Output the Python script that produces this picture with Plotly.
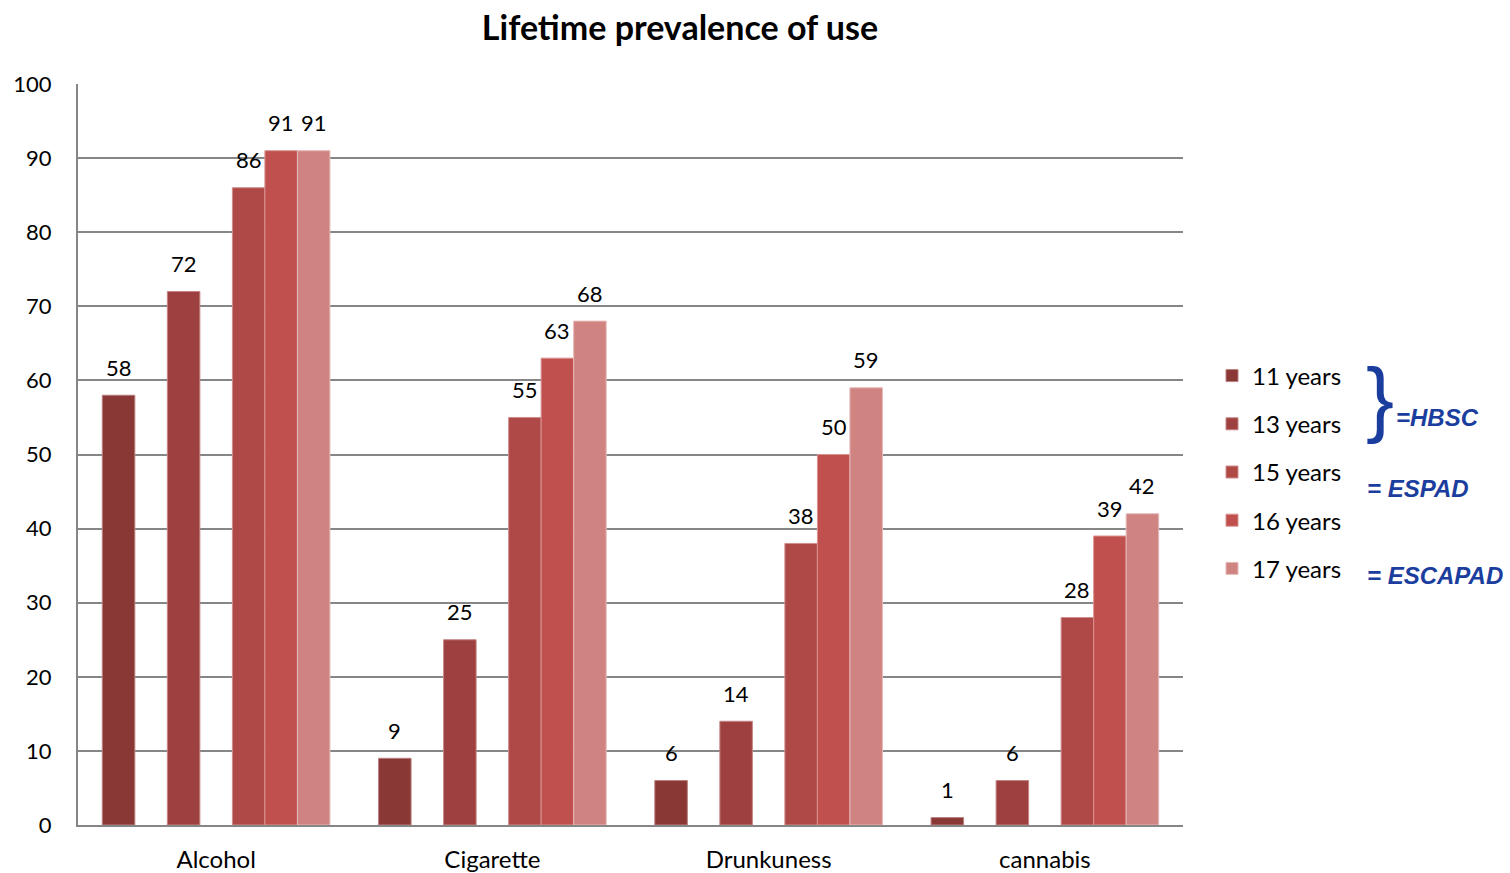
import plotly.graph_objects as go

# Substances surveyed
categories = ["Alcohol", "Cigarette", "Drunkuness", "cannabis"]

# Lifetime prevalence (%) by age group
age_groups = ["11 years", "13 years", "15 years", "16 years", "17 years"]
years_11 = [58, 9, 6, 1]
years_13 = [72, 25, 14, 6]
years_15 = [86, 55, 38, 28]
years_16 = [91, 63, 50, 39]
years_17 = [91, 68, 59, 42]

y_ticks = [0, 10, 20, 30, 40, 50, 60, 70, 80, 90, 100]

series = [years_11, years_13, years_15, years_16, years_17]
colors = ["#8A3836", "#9E403F", "#AE4947", "#C0504D", "#CF8482"]
edge_colors = ["#B9807F", "#C48584", "#CE8E8C", "#D99391", "#E6B9B8"]

# slot layout: 11, spacer, 13, spacer, 15, 16, 17
layout_slots = [0, None, 1, None, 2, 3, 4]

FONT = "Lato, 'Open Sans', sans-serif"

W, H = 1510, 873
L, R, T, B = 78, 327, 84, 48
pw, ph = W - L - R, H - T - B
BARGAP = 0.176
slot_px = pw / len(categories) * (1 - BARGAP) / len(layout_slots)


def px_x(p):
    return (p - L) / pw


def px_y(p):
    return (H - B - p) / ph


fig = go.Figure()
labels = []
for slot_idx, s in enumerate(layout_slots):
    if s is None:
        fig.add_trace(go.Bar(
            x=categories, y=[None] * len(categories), name="",
            showlegend=False, hoverinfo="skip", offsetgroup=str(slot_idx),
            marker=dict(color="rgba(0,0,0,0)"),
        ))
        continue
    vals = series[s]
    fig.add_trace(go.Bar(
        x=categories, y=vals, name=age_groups[s],
        offsetgroup=str(slot_idx), legendgroup=age_groups[s],
        marker=dict(color=colors[s], line=dict(color=edge_colors[s], width=1)),
    ))
    # value labels above each bar
    shift = (slot_idx - (len(layout_slots) - 1) / 2) * slot_px
    for cat, v in zip(categories, vals):
        labels.append(dict(
            x=cat, y=v, xref="x", yref="y", text=str(v), showarrow=False,
            xshift=shift, yshift=28, yanchor="middle", xanchor="center",
            font=dict(family=FONT, size=22, color="#000000"),
        ))

blue = "#1B3E9E"
ann = [
    dict(text="}", x=px_x(1364), y=px_y(398), xanchor="left", yanchor="middle",
         font=dict(family="Liberation Sans", size=84, color=blue)),
    dict(text="<b><i>=HBSC</i></b>", x=px_x(1394), y=px_y(417), xanchor="left", yanchor="middle",
         font=dict(family="Liberation Sans", size=24, color=blue)),
    dict(text="<b><i>= ESPAD</i></b>", x=px_x(1365), y=px_y(489), xanchor="left", yanchor="middle",
         font=dict(family="Liberation Sans", size=24, color=blue)),
    dict(text="<b><i>= ESCAPAD</i></b>", x=px_x(1365), y=px_y(575), xanchor="left", yanchor="middle",
         font=dict(family="Liberation Sans", size=24, color=blue)),
]
for a in ann:
    a.update(xref="paper", yref="paper", showarrow=False)

fig.update_layout(
    template="none",
    width=W, height=H,
    margin=dict(l=L, r=R, t=T, b=B, pad=0, autoexpand=False),
    paper_bgcolor="white", plot_bgcolor="white",
    barmode="group", bargap=BARGAP, bargroupgap=0,
    title=dict(text="<b>Lifetime prevalence of use</b>", x=680 / W, xanchor="center",
               xref="container", y=1 - 28 / H, yanchor="middle", yref="container",
               font=dict(family=FONT, size=34, color="#000000")),
    font=dict(family=FONT, size=20, color="#000000"),
    legend=dict(x=px_x(1212), y=px_y(472), xanchor="left", yanchor="middle",
                tracegroupgap=14, font=dict(family=FONT, size=24, color="#000000"),
                itemwidth=30, traceorder="grouped", bgcolor="rgba(0,0,0,0)"),
    annotations=labels + ann,
    showlegend=True,
)
fig.update_xaxes(showgrid=False, showline=True, linecolor="#868686", linewidth=2,
                 ticks="", tickfont=dict(family=FONT, size=24), ticklabelstandoff=12,
                 automargin=False)
fig.update_yaxes(range=[0, 100], tickvals=y_ticks, showgrid=True, gridcolor="#868686",
                 gridwidth=1.5, showline=True, linecolor="#868686", linewidth=2,
                 zeroline=False, ticks="", tickfont=dict(family=FONT, size=22),
                 ticklabelstandoff=20, automargin=False)

fig.write_html("out.html")
